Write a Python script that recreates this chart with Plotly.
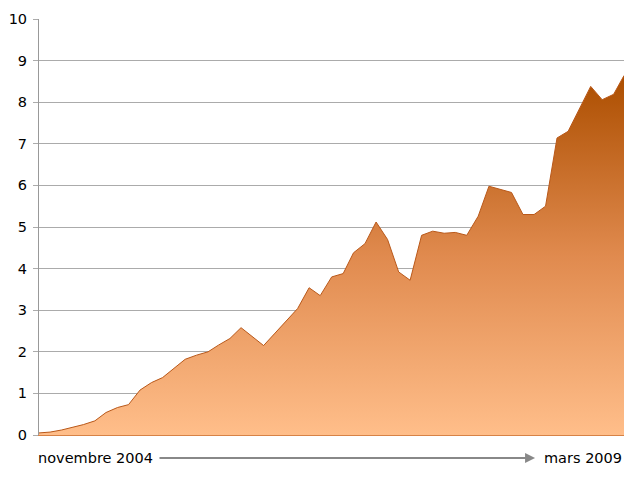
import pandas as pd
import plotly.graph_objects as go

months = pd.date_range("2004-11-01", "2009-03-01", freq="MS")
values = [0.05, 0.07, 0.12, 0.18, 0.25, 0.34, 0.54, 0.66, 0.73, 1.08,
          1.26, 1.38, 1.60, 1.82, 1.92, 2.00, 2.16, 2.32, 2.58, 2.37,
          2.15, 2.45, 2.75, 3.04, 3.54, 3.35, 3.80, 3.88, 4.38, 4.60,
          5.12, 4.70, 3.92, 3.72, 4.80, 4.90, 4.85, 4.87, 4.80, 5.26,
          5.98, 5.90, 5.83, 5.30, 5.30, 5.50, 7.14, 7.30, 7.84, 8.38,
          8.06, 8.19, 8.64]
y_ticks = list(range(0, 11))
start_label = "novembre 2004"
end_label = "mars 2009"

font = "DejaVu Sans"

fig = go.Figure()
fig.add_trace(go.Scatter(
    x=months, y=values, mode="lines", fill="tozeroy",
    line=dict(color="rgb(185,88,25)", width=1),
    fillgradient=dict(type="vertical",
                      colorscale=[[0, "rgb(255,190,138)"],
                                  [0.5, "rgb(224,138,78)"],
                                  [1, "rgb(172,78,0)"]]),
    hoverinfo="skip", showlegend=False,
))

fig.update_layout(
    width=642, height=481,
    margin=dict(l=31, r=26, t=10.5, b=54, autoexpand=False),
    paper_bgcolor="white", plot_bgcolor="white",
    font=dict(family=font, size=14.5, color="black"),
    xaxis=dict(range=[months[0], months[-1]], showticklabels=False,
               showgrid=False, zeroline=False, ticks="", automargin=False,
               showline=True, linecolor="rgb(215,130,70)", linewidth=1),
    yaxis=dict(range=[0, 10], tickvals=y_ticks, showgrid=True,
               gridcolor="#ababab", gridwidth=1.3, zeroline=False,
               automargin=False, ticklabelstandoff=3,
               ticks="outside", ticklen=5, tickcolor="#ababab",
               showline=True, linecolor="#999999", linewidth=1,
               tickfont=dict(family=font, size=14.5, color="black")),
    annotations=[
        dict(text=start_label, xref="x domain", yref="y domain",
             x=0.0, y=-0.055, xanchor="left", yanchor="middle", xshift=-3,
             showarrow=False, font=dict(family=font, size=14.5)),
        dict(text=end_label, xref="x domain", yref="y domain",
             x=0.995, y=-0.055, xanchor="right", yanchor="middle", xshift=3,
             showarrow=False, font=dict(family=font, size=14.5)),
        dict(text="", xref="x domain", yref="y domain",
             axref="x domain", ayref="y domain",
             x=0.848, y=-0.055, ax=0.2034, ay=-0.055,
             showarrow=True, arrowhead=2, arrowsize=1, arrowwidth=2,
             arrowcolor="#888888"),
    ],
)

fig.write_html("out.html")
